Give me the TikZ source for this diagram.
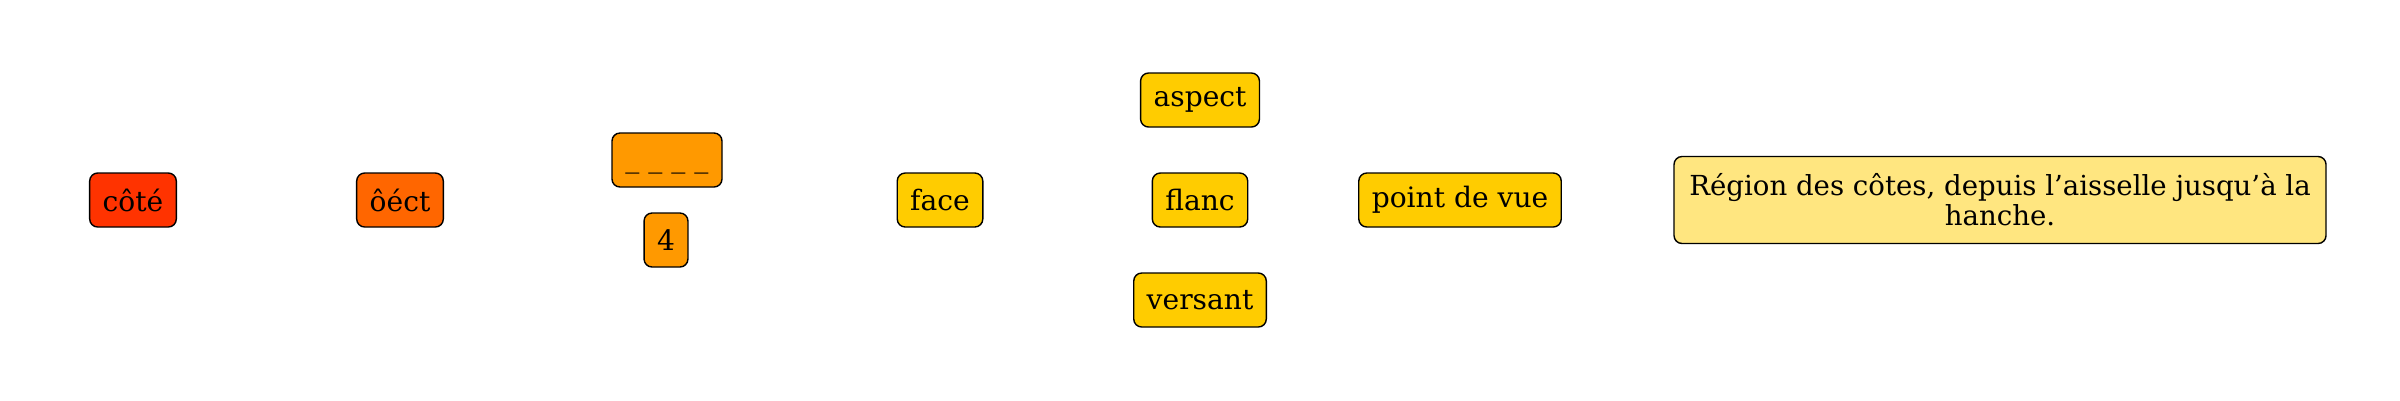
\documentclass[tikz,border=0pt]{standalone}
\usepackage{fontspec}
\setmainfont{DejaVu Serif}
\definecolor{cA}{HTML}{FF3300}
\definecolor{cB}{HTML}{FF6600}
\definecolor{cC}{HTML}{FF9900}
\definecolor{cD}{HTML}{FFCC00}
\definecolor{cE}{HTML}{FFE680}
\tikzset{
  box/.style={draw=black, line width=0.4pt, rounded corners=0.08cm, inner xsep=0.13cm, inner ysep=0.05cm,
    minimum height=0.54cm, font=\fontsize{8pt}{9.5pt}\selectfont, text=black},
}
\begin{document}
\begin{tikzpicture}
\useasboundingbox (0,0) rectangle (24,-4);
\node[box, fill=cA] (cote) at (1.33,-2.00) {côté};
\node[box, fill=cB] (oect) at (4.00,-2.00) {ôéct};
\node[box, fill=cC, minimum width=1.10cm] (blank) at (6.67,-1.60) {\vphantom{fg}\_ \_ \_ \_};
\node[box, fill=cC] (four) at (6.66,-2.40) {4};
\node[box, fill=cD] (face) at (9.40,-2.00) {face};
\node[box, fill=cD] (aspect) at (12.00,-1.00) {aspect};
\node[box, fill=cD] (flanc) at (12.00,-2.00) {flanc};
\node[box, fill=cD] (versant) at (12.00,-3.00) {versant};
\node[box, fill=cD] (pdv) at (14.60,-2.00) {point de vue};
\node[box, fill=cE, inner xsep=0.1cm, minimum width=6.52cm, minimum height=0.87cm, align=center, font=\fontsize{7.85pt}{8.5pt}\selectfont] (def) at (20.00,-2.00) {Région des côtes, depuis l’aisselle jusqu’à la\\hanche.};
\end{tikzpicture}
\end{document}
